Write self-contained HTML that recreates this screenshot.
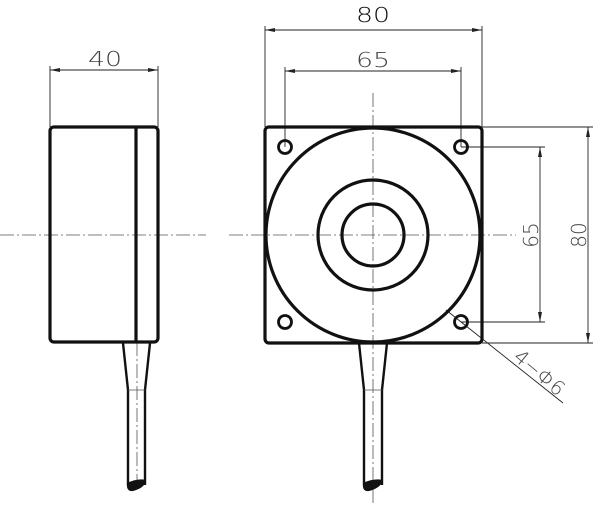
<!DOCTYPE html>
<html><head><style>body{margin:0;background:#fff}svg{display:block}</style></head><body>
<svg width="600" height="511" viewBox="0 0 600 511" xmlns="http://www.w3.org/2000/svg" font-family="DejaVu Sans, Liberation Sans, sans-serif">
<defs><marker id="a" viewBox="0 0 10 4" refX="10" refY="2" markerWidth="10" markerHeight="4" orient="auto-start-reverse" markerUnits="userSpaceOnUse"><path d="M0,0L10,2L0,4z" fill="#222"/></marker></defs>
<g stroke="#555" stroke-width="0.8" fill="none" stroke-dasharray="14,3,2,3">
<line x1="0" y1="235" x2="206" y2="235"/><line x1="229" y1="235" x2="516" y2="235"/>
<line x1="373" y1="93" x2="373" y2="505"/>
<line x1="137" y1="342" x2="137" y2="488"/>
</g>
<g stroke="#222" stroke-width="0.9" fill="none">
<line x1="50" y1="66" x2="50" y2="127"/><line x1="158" y1="66" x2="158" y2="127"/>
<line x1="50" y1="70" x2="158" y2="70" marker-start="url(#a)" marker-end="url(#a)"/>
<line x1="265" y1="26" x2="265" y2="127"/><line x1="482" y1="26" x2="482" y2="127"/>
<line x1="265" y1="30" x2="482" y2="30" marker-start="url(#a)" marker-end="url(#a)"/>
<line x1="285" y1="67" x2="285" y2="147"/><line x1="461" y1="67" x2="461" y2="147"/>
<line x1="285" y1="71" x2="461" y2="71" marker-start="url(#a)" marker-end="url(#a)"/>
<line x1="461" y1="147" x2="545" y2="147"/><line x1="461" y1="322" x2="545" y2="322"/>
<line x1="540" y1="147" x2="540" y2="322" marker-start="url(#a)" marker-end="url(#a)"/>
<line x1="482" y1="127" x2="593" y2="127"/><line x1="482" y1="343" x2="593" y2="343"/>
<line x1="588" y1="127" x2="588" y2="343" marker-start="url(#a)" marker-end="url(#a)"/>
<line x1="446" y1="310" x2="563" y2="403"/>
</g>
<g fill="#444" font-size="20" font-weight="300">
<text x="105" y="66" text-anchor="middle" textLength="34" lengthAdjust="spacingAndGlyphs">40</text>
<text x="373" y="67" text-anchor="middle" textLength="34" lengthAdjust="spacingAndGlyphs">65</text>
<text x="373" y="22" text-anchor="middle" fill="#111" textLength="34" lengthAdjust="spacingAndGlyphs">80</text>
<text transform="translate(538,235) rotate(-90)" text-anchor="middle">65</text>
<text transform="translate(586,235) rotate(-90)" text-anchor="middle">80</text>
<text transform="translate(535,378) rotate(40)" text-anchor="middle">4−Φ6</text>
</g>
<g stroke="#111" stroke-width="3.2" fill="none">
<rect x="50" y="127" width="108" height="215" rx="4"/>
<line x1="136" y1="127" x2="136" y2="342"/>
<rect x="265" y="127" width="217" height="216" rx="4"/>
<circle cx="373" cy="235" r="107"/>
<circle cx="373" cy="235" r="55"/>
<circle cx="373" cy="235" r="31"/>
<circle cx="285" cy="147" r="6.5" stroke-width="2.8"/><circle cx="461" cy="147" r="6.5" stroke-width="2.8"/>
<circle cx="285" cy="322" r="6.5" stroke-width="2.8"/><circle cx="461" cy="322" r="6.5" stroke-width="2.8"/>
</g>
<g stroke="#111" stroke-width="2.4" fill="none">
<path d="M123,343 L128,390 L128,485 M150,343 L145,390 L145,485"/>
<path d="M359,343 L364,390 L364,485 M387,343 L382,390 L382,485"/>
</g>
<g stroke="#555" stroke-width="0.8"><line x1="128" y1="390" x2="145" y2="390"/><line x1="364" y1="390" x2="382" y2="390"/></g>
<path d="M127,483 Q126,492 133,491 Q145,488 146,480 Q138,478 127,483z" fill="#111"/>
<path d="M363,483 Q362,492 369,491 Q381,488 383,480 Q374,478 363,483z" fill="#111"/>
</svg>
</body></html>
